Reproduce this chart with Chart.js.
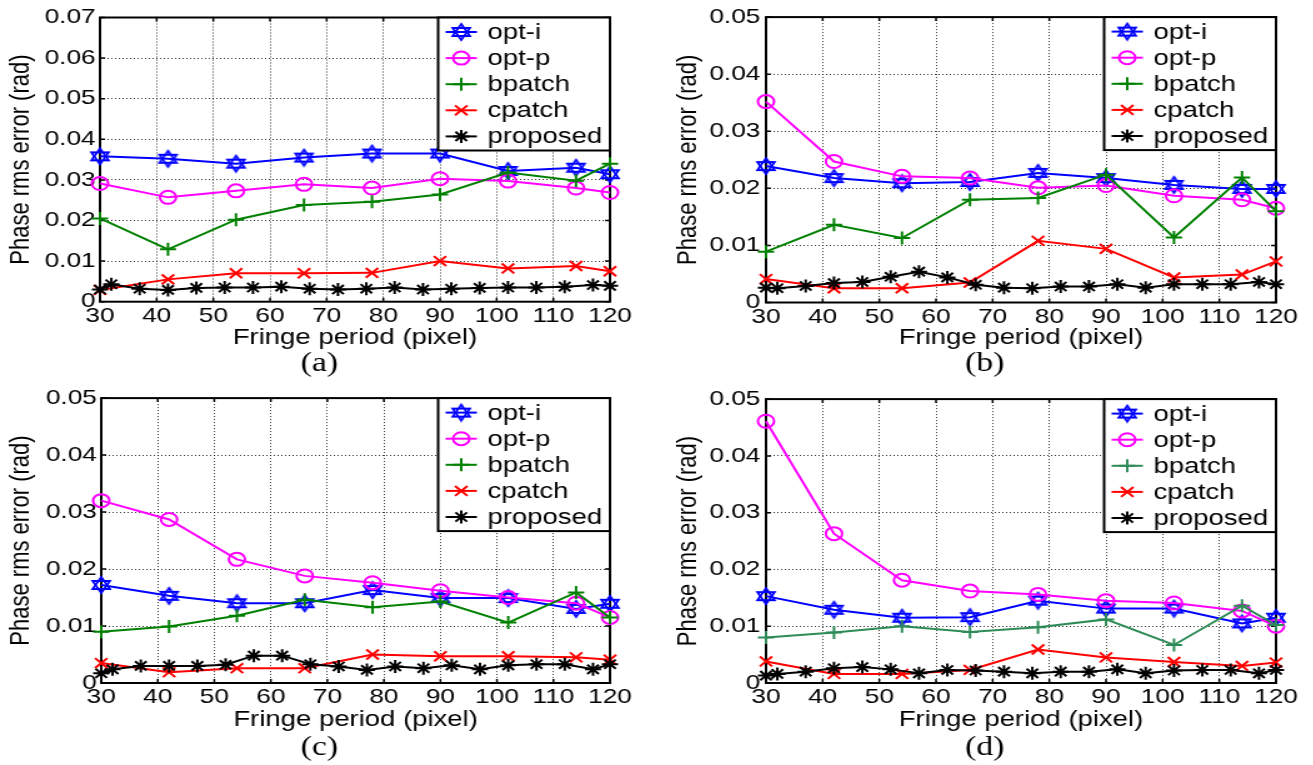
<!DOCTYPE html>
<html><head><meta charset="utf-8">
<script src="https://cdn.jsdelivr.net/npm/chart.js@4.4.1/dist/chart.umd.min.js"></script>
<style>
html,body{margin:0;padding:0;background:#fff;width:1313px;height:765px;overflow:hidden;}
.panel{position:absolute;transform-origin:0 0;transform:scaleX(1.25);}
canvas{display:block;}
</style></head><body>
<div class="panel" style="left:0px;top:0px"><canvas id="ca" width="525" height="382"></canvas></div>
<div class="panel" style="left:656px;top:0px"><canvas id="cb" width="525" height="382"></canvas></div>
<div class="panel" style="left:0px;top:382px"><canvas id="cc" width="525" height="383"></canvas></div>
<div class="panel" style="left:656px;top:382px"><canvas id="cd" width="525" height="383"></canvas></div>
<script>
// ---------------- data ----------------
const xMain = [30, 42, 54, 66, 78, 90, 102, 114, 120];
const xProposed = [30, 32, 37, 42, 47, 52, 57, 62, 67, 72, 77, 82, 87, 92, 97, 102, 107, 112, 117, 120];
const seriesNames = ['opt-i', 'opt-p', 'bpatch', 'cpatch', 'proposed'];
const xTickValues = [30, 40, 50, 60, 70, 80, 90, 100, 110, 120];
const yMaxes = [0.07, 0.05, 0.05, 0.05];
const yStep = 0.01;
const captions = ['(a)', '(b)', '(c)', '(d)'];
const xTitle = 'Fringe period (pixel)';
const yTitle = 'Phase rms error (rad)';

const a_optI    = [0.0358, 0.0352, 0.0340, 0.0355, 0.0365, 0.0365, 0.0322, 0.0330, 0.0314];
const a_optP    = [0.0291, 0.0257, 0.0273, 0.0289, 0.0280, 0.0303, 0.0297, 0.0280, 0.0269];
const a_bpatch  = [0.0205, 0.0129, 0.0202, 0.0238, 0.0246, 0.0264, 0.0318, 0.0298, 0.0340];
const a_cpatch  = [0.0029, 0.0055, 0.0070, 0.0070, 0.0071, 0.0100, 0.0082, 0.0088, 0.0075];
const a_proposed= [0.0030, 0.0043, 0.0032, 0.0029, 0.0034, 0.0035, 0.0035, 0.0037, 0.0032, 0.0030, 0.0032, 0.0035, 0.0030, 0.0032, 0.0034, 0.0035, 0.0035, 0.0037, 0.0041, 0.0039];

const b_optI    = [0.0239, 0.0218, 0.0209, 0.0211, 0.0227, 0.0218, 0.0206, 0.0199, 0.0199];
const b_optP    = [0.0352, 0.0247, 0.0221, 0.0218, 0.0201, 0.0205, 0.0187, 0.0180, 0.0165];
const b_bpatch  = [0.0089, 0.0136, 0.0113, 0.0180, 0.0183, 0.0224, 0.0114, 0.0219, 0.0160];
const b_cpatch  = [0.0041, 0.0025, 0.0025, 0.0035, 0.0108, 0.0094, 0.0044, 0.0049, 0.0072];
const b_proposed= [0.0026, 0.0025, 0.0029, 0.0034, 0.0036, 0.0045, 0.0054, 0.0044, 0.0031, 0.0026, 0.0025, 0.0028, 0.0028, 0.0032, 0.0026, 0.0032, 0.0032, 0.0032, 0.0036, 0.0032];

const c_optI    = [0.0172, 0.0153, 0.0140, 0.0140, 0.0163, 0.0149, 0.0149, 0.0130, 0.0139];
const c_optP    = [0.0320, 0.0287, 0.0217, 0.0188, 0.0176, 0.0162, 0.0150, 0.0140, 0.0115];
const c_bpatch  = [0.0090, 0.0099, 0.0118, 0.0146, 0.0133, 0.0143, 0.0106, 0.0159, 0.0115];
const c_cpatch  = [0.0035, 0.0019, 0.0026, 0.0026, 0.0050, 0.0047, 0.0047, 0.0045, 0.0041];
const c_proposed= [0.0017, 0.0024, 0.0030, 0.0030, 0.0030, 0.0032, 0.0048, 0.0048, 0.0033, 0.0029, 0.0023, 0.0029, 0.0026, 0.0031, 0.0024, 0.0031, 0.0033, 0.0033, 0.0024, 0.0033];

const d_optI    = [0.0153, 0.0129, 0.0115, 0.0116, 0.0145, 0.0131, 0.0131, 0.0105, 0.0115];
const d_optP    = [0.0461, 0.0263, 0.0181, 0.0162, 0.0156, 0.0145, 0.0141, 0.0127, 0.0100];
const d_bpatch  = [0.0080, 0.0089, 0.0100, 0.0090, 0.0098, 0.0112, 0.0067, 0.0136, 0.0102];
const d_cpatch  = [0.0038, 0.0016, 0.0016, 0.0023, 0.0059, 0.0045, 0.0037, 0.0030, 0.0036];
const d_proposed= [0.0013, 0.0016, 0.0020, 0.0026, 0.0028, 0.0024, 0.0017, 0.0023, 0.0022, 0.0020, 0.0017, 0.0020, 0.0020, 0.0024, 0.0017, 0.0022, 0.0023, 0.0023, 0.0017, 0.0023];

// ---------------- styles ----------------
const FONT = '"Liberation Sans", Arial, sans-serif';
function makeHexagram(color){
  const R = 8, s = 2*R + 4, c = document.createElement('canvas');
  c.width = s; c.height = s;
  const g = c.getContext('2d'); const cx = s/2, cy = s/2;
  g.strokeStyle = color; g.lineWidth = 1.8; g.lineJoin = 'miter';
  [[-90, 30, 150], [90, 210, 330]].forEach(tri => {
    g.beginPath();
    tri.forEach((a, i) => { const r = a*Math.PI/180; const px = cx + R*Math.cos(r), py = cy + R*Math.sin(r); i ? g.lineTo(px, py) : g.moveTo(px, py); });
    g.closePath(); g.stroke();
  });
  return c;
}
const hexBlue = makeHexagram('#0000ff');

function seriesStyles(bpatchColor){
  return [
    {color:'#0000ff', pointStyle: hexBlue, radius: 8},
    {color:'#ff00ff', pointStyle: 'circle', radius: 6.5},
    {color: bpatchColor, pointStyle: 'cross', radius: 6.5},
    {color:'#ff0000', pointStyle: 'crossRot', radius: 7},
    {color:'#000000', pointStyle: 'star', radius: 6.5}
  ];
}

function drawMarker(ctx, st, x, y){
  if (st.pointStyle instanceof HTMLCanvasElement){
    ctx.drawImage(st.pointStyle, x - st.pointStyle.width/2, y - st.pointStyle.height/2);
    return;
  }
  const r = st.radius;
  ctx.save(); ctx.strokeStyle = st.color; ctx.lineWidth = 2; ctx.beginPath();
  if (st.pointStyle === 'circle'){ ctx.arc(x, y, r, 0, 2*Math.PI); }
  else {
    const plus = st.pointStyle === 'cross' || st.pointStyle === 'star';
    const rot = st.pointStyle === 'crossRot' || st.pointStyle === 'star';
    if (plus){ ctx.moveTo(x-r, y); ctx.lineTo(x+r, y); ctx.moveTo(x, y-r); ctx.lineTo(x, y+r); }
    if (rot){ const d = r*Math.SQRT1_2; ctx.moveTo(x-d, y-d); ctx.lineTo(x+d, y+d); ctx.moveTo(x-d, y+d); ctx.lineTo(x+d, y-d); }
  }
  ctx.stroke(); ctx.restore();
}

const panels = [
  {canvas:'ca', w:525, h:382, area:{l:80, r:488, t:17.5, b:301.7}, yTitlePad:3.8, yTickPad:3.5, xTitlePad:30.8, cap:{x:255.6, y:364}, bpatch:'#008000',
   series:[a_optI, a_optP, a_bpatch, a_cpatch, a_proposed]},
  {canvas:'cb', w:525, h:382, area:{l:88, r:496, t:16, b:302.5}, yTitlePad:12.4, yTickPad:4.5, xTitlePad:30.8, cap:{x:263, y:364}, bpatch:'#008000',
   series:[b_optI, b_optP, b_bpatch, b_cpatch, b_proposed]},
  {canvas:'cc', w:525, h:383, area:{l:81, r:488, t:15.3, b:301}, yTitlePad:3.8, yTickPad:3.5, xTitlePad:31.8, cap:{x:255.6, y:365.5}, bpatch:'#008000',
   series:[c_optI, c_optP, c_bpatch, c_cpatch, c_proposed]},
  {canvas:'cd', w:525, h:383, area:{l:88, r:496, t:15.3, b:301}, yTitlePad:12.4, yTickPad:4.5, xTitlePad:31.8, cap:{x:263, y:365.5}, bpatch:'#2e8b57',
   series:[d_optI, d_optP, d_bpatch, d_cpatch, d_proposed]}
];

panels.forEach((p, pi) => {
  const styles = seriesStyles(p.bpatch);
  const datasets = p.series.map((vals, i) => {
    const xs = (i === 4) ? xProposed : xMain;
    const st = styles[i];
    return {
      label: seriesNames[i],
      data: vals.map((v, k) => ({x: xs[k], y: v})),
      borderColor: st.color, backgroundColor: 'rgba(0,0,0,0)',
      borderWidth: 2, tension: 0, fill: false,
      pointStyle: st.pointStyle, pointRadius: st.radius, pointHoverRadius: st.radius,
      pointBorderColor: st.color, pointBackgroundColor: 'rgba(0,0,0,0)', pointBorderWidth: 2,
      clip: false, order: 4 - i
    };
  });

  const framePlugin = {
    id: 'frame' + pi,
    beforeDatasetsDraw(chart){
      const {ctx, chartArea: a, scales} = chart;
      ctx.save();
      ctx.setLineDash([]);
      ctx.strokeStyle = '#000'; ctx.lineWidth = 1.5;
      ctx.beginPath();
      xTickValues.forEach(v => { const x = scales.x.getPixelForValue(v);
        ctx.moveTo(x, a.bottom); ctx.lineTo(x, a.bottom - 4);
        ctx.moveTo(x, a.top); ctx.lineTo(x, a.top + 4); });
      for (let v = 0; v <= yMaxes[pi] + 1e-9; v += yStep){ const y = scales.y.getPixelForValue(v);
        ctx.moveTo(a.left, y); ctx.lineTo(a.left + 4, y);
        ctx.moveTo(a.right, y); ctx.lineTo(a.right - 4, y); }
      ctx.stroke();
      ctx.lineWidth = 2;
      ctx.strokeRect(a.left, a.top, a.right - a.left, a.bottom - a.top);
      ctx.restore();
    },
    afterDatasetsDraw(chart){
      const {ctx, chartArea: a} = chart;
      ctx.save();
      const bw = 137.5, bh = 133;
      const bx = a.right - bw, by = a.top;
      ctx.fillStyle = '#fff'; ctx.fillRect(bx, by, bw, bh);
      ctx.setLineDash([]); ctx.strokeStyle = '#000'; ctx.lineWidth = 2;
      ctx.strokeRect(bx, by, bw, bh);
      ctx.font = '22px ' + FONT; ctx.textBaseline = 'middle'; ctx.textAlign = 'left'; ctx.fillStyle = '#000';
      seriesNames.forEach((name, i) => {
        const y = by + 14.5 + i*26.1; const st = styles[i];
        ctx.strokeStyle = st.color; ctx.lineWidth = 2;
        ctx.beginPath(); ctx.moveTo(bx + 6, y); ctx.lineTo(bx + 31, y); ctx.stroke();
        drawMarker(ctx, st, bx + 18.5, y);
        ctx.fillStyle = '#000';
        ctx.fillText(name, bx + 39.5, y + 1);
      });
      ctx.restore();
    },
    afterDraw(chart){
      const ctx = chart.ctx;
      ctx.save();
      ctx.font = '27px "Liberation Serif", "Times New Roman", serif';
      ctx.fillStyle = '#000'; ctx.textAlign = 'center'; ctx.textBaseline = 'middle';
      ctx.fillText(captions[pi], p.cap.x, p.cap.y);
      ctx.restore();
    }
  };

  new Chart(document.getElementById(p.canvas), {
    type: 'line',
    data: { datasets },
    options: {
      responsive: false, animation: false, devicePixelRatio: 1, events: [],
      layout: { padding: { left: 0, top: p.area.t, right: p.w - p.area.r, bottom: 0 } },
      plugins: { legend: { display: false }, tooltip: { enabled: false }, title: { display: false } },
      scales: {
        x: {
          type: 'linear', min: 30, max: 120,
          afterFit(s){ s.height = p.h - p.area.b; },
          afterBuildTicks(s){ s.ticks = xTickValues.map(v => ({value: v})); },
          ticks: { stepSize: 10, autoSkip: false, maxRotation: 0, padding: 2, color: '#000', font: { family: FONT, size: 21 } },
          grid: { color: 'rgba(0,0,0,0.8)', lineWidth: 1, drawTicks: false },
          border: { display: false, dash: [1, 2] },
          title: { display: true, text: xTitle, color: '#000', font: { family: FONT, size: 22 }, padding: { top: 0, bottom: p.xTitlePad } }
        },
        y: {
          type: 'linear', min: 0, max: yMaxes[pi],
          afterFit(s){ s.width = p.area.l; },
          ticks: { stepSize: yStep, padding: p.yTickPad, color: '#000', font: { family: FONT, size: 21 },
                   callback: v => (Math.abs(v) < 1e-12 ? '0' : Number(v).toFixed(2)) },
          grid: { color: 'rgba(0,0,0,0.8)', lineWidth: 1, drawTicks: false },
          border: { display: false, dash: [1, 2] },
          title: { display: true, text: yTitle, color: '#000', font: { family: FONT, size: 22 }, padding: { top: p.yTitlePad, bottom: 0 } }
        }
      }
    },
    plugins: [framePlugin]
  });
});
</script>
</body></html>
